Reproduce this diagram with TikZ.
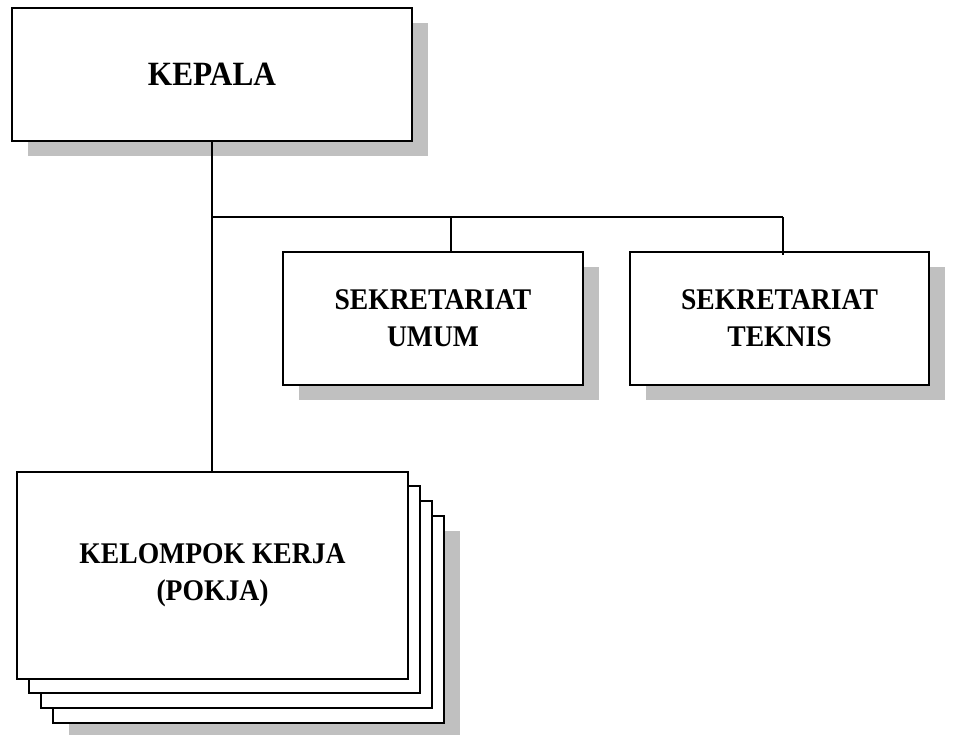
\documentclass[tikz,border=0pt]{standalone}
\usepackage{fontspec}
\setmainfont{Liberation Serif}
\newfontfamily\orgfont{Liberation Serif}[FakeStretch=0.92]
\usetikzlibrary{shadows}
\definecolor{shadowgray}{HTML}{C0C0C0}
\tikzset{
  orgbox/.style={draw=black, line width=2pt, fill=white, rectangle, inner sep=0pt,
    align=center, font=\orgfont\bfseries\fontsize{30}{37}\selectfont},
  withshadow/.style={drop shadow={shadow xshift=16pt, shadow yshift=-15pt, fill=shadowgray, opacity=1}},
  conn/.style={draw=black, line width=1.5pt},
  hconn/.style={draw=black, line width=1.3pt}
}
\begin{document}
\begin{tikzpicture}[x=1pt,y=-1pt]
\useasboundingbox (0,0) rectangle (953,735);
% KEPALA
\node[orgbox, withshadow, minimum width=400pt, minimum height=133pt,
  font=\orgfont\bfseries\fontsize{34}{40}\selectfont] (kepala) at (212,74.5) {KEPALA};
% Sekretariat boxes
\node[orgbox, withshadow, minimum width=300pt, minimum height=133pt] (umum) at (433,318.5) {SEKRETARIAT\\UMUM};
\node[orgbox, withshadow, minimum width=299pt, minimum height=133pt] (teknis) at (779.5,318.5) {SEKRETARIAT\\TEKNIS};
% Pokja stack
\node[orgbox, withshadow, minimum width=391pt, minimum height=207pt] (pk4) at (248.5,619.5) {};
\node[orgbox, minimum width=391pt, minimum height=207pt] (pk3) at (236.5,604.5) {};
\node[orgbox, minimum width=391pt, minimum height=207pt] (pk2) at (224.5,589.5) {};
\node[orgbox, minimum width=391pt, minimum height=207pt] (pokja) at (212.5,575.5) {KELOMPOK KERJA\\(POKJA)};
% connectors
\coordinate (j1) at (212,217);
\coordinate (j2) at (451,217);
\coordinate (j3) at (783,217);
\draw[conn] (kepala.south) -- (kepala.south|-pokja.north);
\draw[hconn] (j1) -- (j3);
\draw[conn] (j2) -- (j2|-umum.north);
\draw[conn] (j3) -- ([yshift=-4pt]j3|-teknis.north);
\end{tikzpicture}
\end{document}
